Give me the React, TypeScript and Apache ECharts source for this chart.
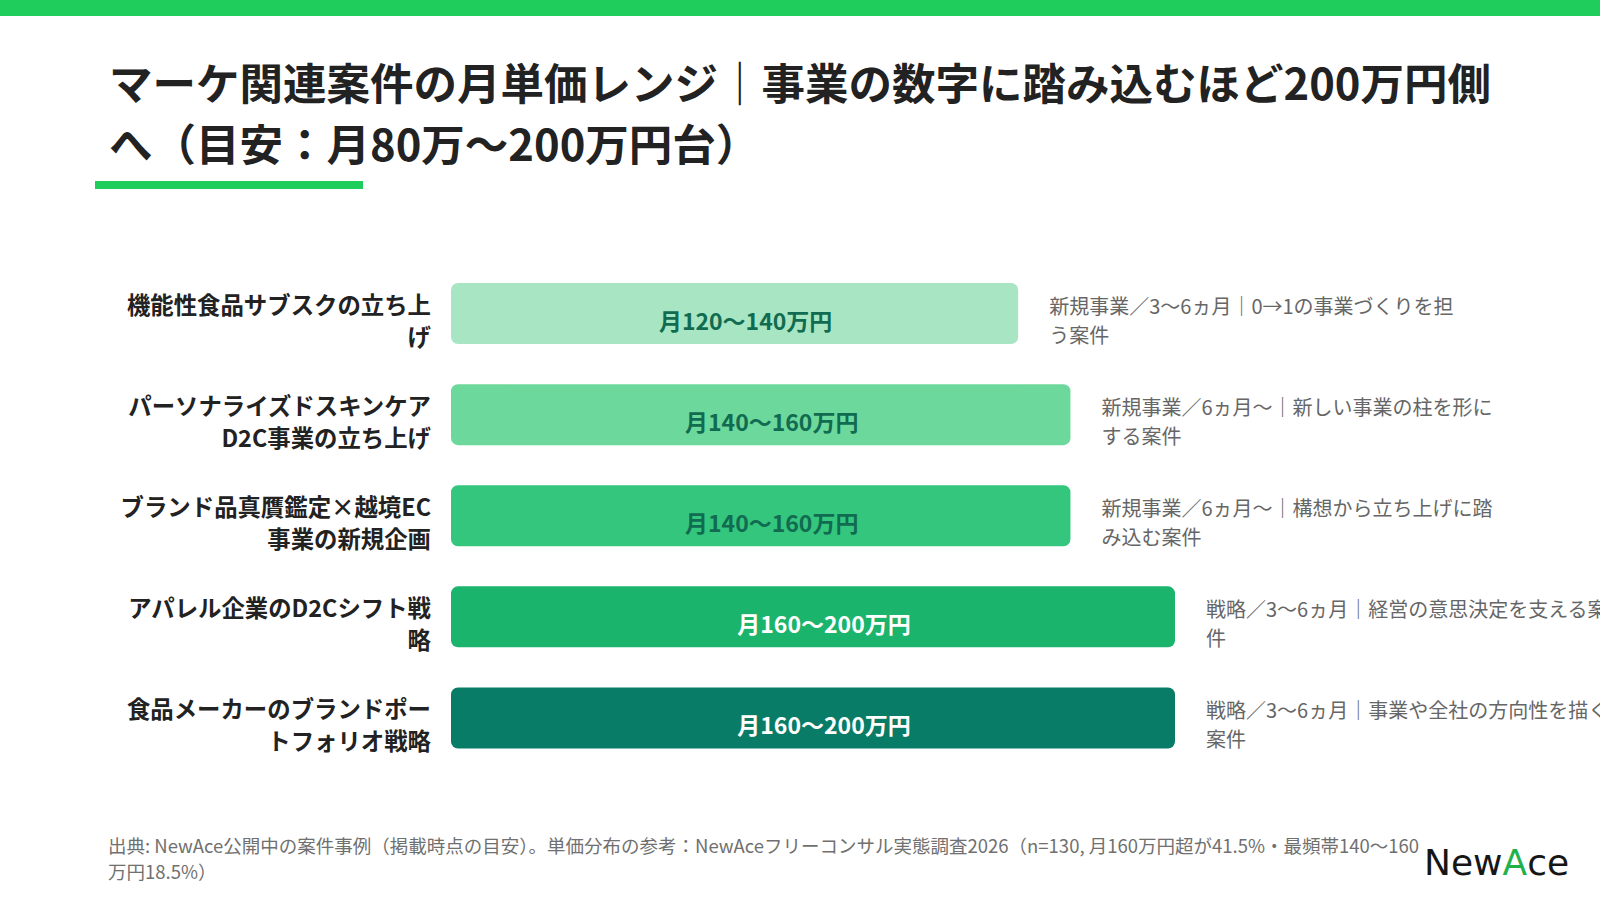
import React, { useEffect, useRef } from "react";
import * as echarts from "echarts";

const FONT = '"Noto Sans CJK JP", "Noto Sans", sans-serif';

const titleLines = [
  "マーケ関連案件の月単価レンジ｜事業の数字に踏み込むほど200万円側",
  "へ（目安：月80万〜200万円台）",
];

const categories = [
  "機能性食品サブスクの立ち上\nげ",
  "パーソナライズドスキンケア\nD2C事業の立ち上げ",
  "ブランド品真贋鑑定×越境EC\n事業の新規企画",
  "アパレル企業のD2Cシフト戦\n略",
  "食品メーカーのブランドポー\nトフォリオ戦略",
];

const lowerMan = [120, 140, 140, 160, 160];
const upperMan = [140, 160, 160, 200, 200];

const notes = [
  "新規事業／3〜6ヵ月｜0→1の事業づくりを担\nう案件",
  "新規事業／6ヵ月〜｜新しい事業の柱を形に\nする案件",
  "新規事業／6ヵ月〜｜構想から立ち上げに踏\nみ込む案件",
  "戦略／3〜6ヵ月｜経営の意思決定を支える案\n件",
  "戦略／3〜6ヵ月｜事業や全社の方向性を描く\n案件",
];

const barColors = ["#a8e6c3", "#6dd89b", "#34c67d", "#1ab46c", "#087c66"];
const labelColors = ["#106b51", "#106b51", "#106b51", "#ffffff", "#ffffff"];

const footerText =
  "出典: NewAce公開中の案件事例（掲載時点の目安）。単価分布の参考：NewAceフリーコンサル実態調査2026（n=130, 月160万円超が41.5%・最頻帯140〜160\n万円18.5%）";

const X_MIN = -77;
const X_MAX = 200;

export default function App() {
  const ref = useRef<HTMLDivElement>(null);

  useEffect(() => {
    document.body.style.margin = "0";
    const chart = echarts.init(ref.current!, undefined, { renderer: "svg" });
    const green = "#1ecd5b";

    chart.setOption({
      animation: false,
      backgroundColor: "#ffffff",
      grid: { left: 451, right: 425, top: 269.5, bottom: 128, containLabel: false },
      xAxis: {
        type: "value",
        min: X_MIN,
        max: X_MAX,
        show: false,
      },
      yAxis: {
        type: "category",
        data: categories,
        inverse: true,
        axisLine: { show: false },
        axisTick: { show: false },
        splitLine: { show: false },
        axisLabel: {
          margin: 20,
          fontSize: 23.4,
          fontWeight: "bold",
          color: "#222222",
          lineHeight: 32,
          align: "right",
          fontFamily: FONT,
        },
      },
      series: [
        {
          type: "custom",
          data: upperMan.map((v, i) => [v, i]),
          encode: { x: 0, y: 1 },
          renderItem: (params: any, api: any) => {
            const i = params.dataIndex;
            const start = api.coord([X_MIN, i]);
            const end = api.coord([api.value(0), i]);
            const cy = start[1];
            return {
              type: "group",
              children: [
                {
                  type: "rect",
                  shape: { x: start[0], y: cy - 37, width: end[0] - start[0], height: 61, r: 7 },
                  style: { fill: barColors[i] },
                },
                {
                  type: "text",
                  x: (start[0] + end[0]) / 2 + 11,
                  y: cy,
                  style: {
                    text: `月${lowerMan[i]}〜${upperMan[i]}万円`,
                    fill: labelColors[i],
                    fontSize: 23,
                    fontWeight: "bold",
                    fontFamily: FONT,
                    align: "center",
                    verticalAlign: "middle",
                  },
                },
                {
                  type: "text",
                  x: end[0] + 31,
                  y: cy,
                  style: {
                    text: notes[i],
                    fill: "#666666",
                    fontSize: 20,
                    lineHeight: 29,
                    fontFamily: FONT,
                    align: "left",
                    verticalAlign: "middle",
                  },
                },
              ],
            };
          },
        },
      ],
      graphic: [
        { type: "rect", left: 0, top: 0, shape: { width: 1600, height: 16 }, style: { fill: green } },
        {
          type: "text",
          x: 109,
          y: 81,
          style: {
            text: titleLines[0],
            fill: "#222222",
            fontSize: 43.5,
            fontWeight: "bold",
            fontFamily: FONT,
            align: "left",
            verticalAlign: "middle",
          },
        },
        {
          type: "text",
          x: 109,
          y: 142,
          style: {
            text: titleLines[1],
            fill: "#222222",
            fontSize: 43.5,
            fontWeight: "bold",
            fontFamily: FONT,
            align: "left",
            verticalAlign: "middle",
          },
        },
        { type: "rect", shape: { x: 95, y: 181, width: 268, height: 8 }, style: { fill: green } },
        {
          type: "text",
          x: 108,
          y: 858,
          style: {
            text: footerText,
            fill: "#707070",
            fontSize: 18.5,
            lineHeight: 26,
            fontFamily: FONT,
            align: "left",
            verticalAlign: "middle",
          },
        },
        {
          type: "text",
          x: 1424,
          y: 862,
          style: {
            text: "{a|New}{b|A}{a|ce}",
            align: "left",
            verticalAlign: "middle",
            rich: {
              a: { fontSize: 36, fontFamily: '"DejaVu Sans", sans-serif', fill: "#161616", fontWeight: "normal" },
              b: { fontSize: 36, fontFamily: '"DejaVu Sans", sans-serif', fill: "#22b04b", fontWeight: "normal" },
            },
          },
        },
      ],
    });

    return () => chart.dispose();
  }, []);

  return <div ref={ref} style={{ width: 1600, height: 903, overflow: "hidden" }} />;
}
